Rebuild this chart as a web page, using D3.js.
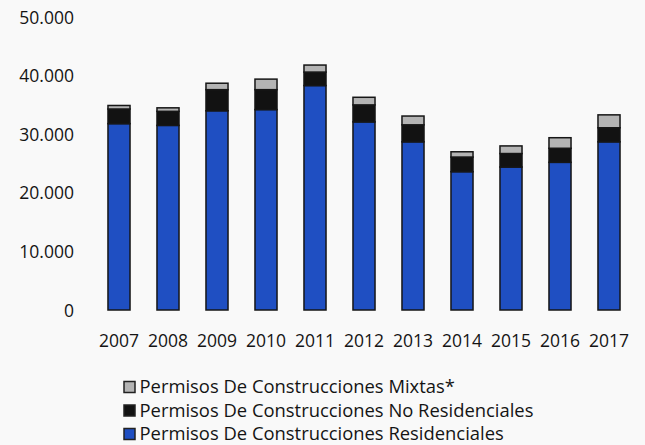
<!DOCTYPE html>
<html>
<head>
<meta charset="utf-8">
<script src="https://cdn.jsdelivr.net/npm/d3@7"></script>
<style>
  html, body { margin: 0; padding: 0; background: #f9f9f9; }
  svg { display: block; }
  text { font-family: "Open Sans", sans-serif; fill: #141414; }
</style>
</head>
<body>
<svg id="chart" width="645" height="445"></svg>
<script>
// Building permits per year, stacked by type
const years = ["2007","2008","2009","2010","2011","2012","2013","2014","2015","2016","2017"];
const residenciales   = [31.8, 31.5, 34.0, 34.2, 38.3, 32.1, 28.7, 23.6, 24.4, 25.2, 28.7];
const noResidenciales = [2.5, 2.4, 3.6, 3.4, 2.3, 2.9, 2.9, 2.5, 2.3, 2.4, 2.4];
const mixtas          = [0.6, 0.6, 1.1, 1.8, 1.2, 1.3, 1.5, 0.9, 1.3, 1.8, 2.2];
const yTicks = [0, 10000, 20000, 30000, 40000, 50000];

const seriesNames = [
  "Permisos De Construcciones Residenciales",
  "Permisos De Construcciones No Residenciales",
  "Permisos De Construcciones Mixtas*"
];
const colors = ["#1f4fc2", "#121212", "#b4b4b4"];

const rows = years.map((y, i) => ({
  year: y,
  r: residenciales[i] * 1000,
  n: noResidenciales[i] * 1000,
  m: mixtas[i] * 1000
}));
const stack = d3.stack().keys(["r", "n", "m"])(rows);

const svg = d3.select("#chart");

const x = d3.scaleBand().domain(years).range([94.5, 633.5]).paddingInner(0.55).paddingOuter(0.275);
const y = d3.scaleLinear().domain([0, 50000]).range([310, 17]);

const fmt = v => v === 0 ? "0" : d3.format(",")(v).replace(/,/g, ".");

// y axis labels only
const yAxis = svg.append("g")
  .attr("transform", "translate(74,0)")
  .call(d3.axisLeft(y).tickValues(yTicks).tickFormat(fmt).tickSize(0).tickPadding(0));
yAxis.select(".domain").remove();
yAxis.selectAll("text").style("font-size", "17.5px").attr("dy", "0.35em");

// x axis labels only
const xAxis = svg.append("g")
  .attr("transform", "translate(0,341)")
  .call(d3.axisBottom(x).tickSize(0).tickPadding(0));
xAxis.select(".domain").remove();
xAxis.selectAll("text").style("font-size", "17.5px").attr("dy", "0.35em");

// stacked bars
svg.append("g").selectAll("g")
  .data(stack)
  .join("g")
  .attr("fill", (d, i) => colors[i])
  .selectAll("rect")
  .data(d => d)
  .join("rect")
  .attr("x", d => x(d.data.year))
  .attr("width", x.bandwidth())
  .attr("y", d => y(d[1]))
  .attr("height", d => y(d[0]) - y(d[1]))
  .attr("stroke", "#161616")
  .attr("stroke-width", 1.5);

// legend
const legendOrder = [2, 1, 0];
const legend = svg.append("g").attr("transform", "translate(124,381.5)");
legendOrder.forEach((si, k) => {
  const g = legend.append("g").attr("transform", `translate(0,${k * 23.5})`);
  g.append("rect")
    .attr("x", 0).attr("y", 0).attr("width", 11).attr("height", 11)
    .attr("fill", colors[si]).attr("stroke", "#222").attr("stroke-width", 1.5);
  g.append("text")
    .attr("x", 15.5).attr("y", 5.5).attr("dy", "0.35em")
    .style("font-size", "18.4px")
    .text(seriesNames[si]);
});
</script>
</body>
</html>
